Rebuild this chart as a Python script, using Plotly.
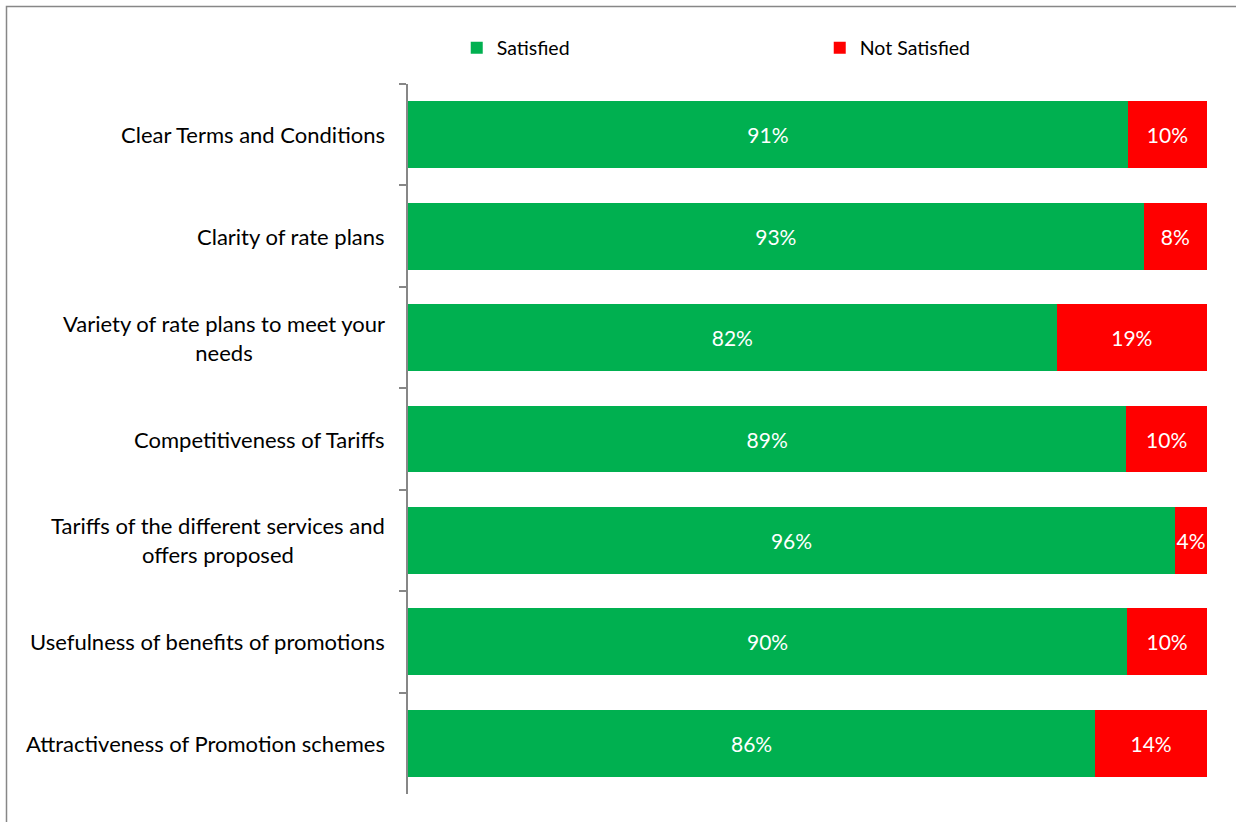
import plotly.graph_objects as go

# Survey items (top to bottom) and response shares in percent
categories = [
    "Clear Terms and Conditions",
    "Clarity of rate plans",
    "Variety of rate plans to meet your<br>needs",
    "Competitiveness of Tariffs",
    "Tariffs of the different services and<br>offers proposed",
    "Usefulness of benefits of promotions",
    "Attractiveness of Promotion schemes",
]
satisfied = [91, 93, 82, 89, 96, 90, 86]
not_satisfied = [10, 8, 19, 10, 4, 10, 14]

GREEN = "#00B050"
RED = "#FF0000"
FONT = "Lato"

fig = go.Figure()
for name, vals, col in [("Satisfied", satisfied, GREEN), ("Not Satisfied", not_satisfied, RED)]:
    fig.add_trace(go.Bar(
        name=name,
        y=categories,
        x=vals,
        orientation="h",
        marker=dict(color=col, line=dict(width=0)),
        text=[f"{v}%" for v in vals],
        textposition="inside",
        insidetextanchor="middle",
        textangle=0,
        constraintext="none",
        textfont=dict(color="white", size=21, family=FONT),
    ))

# Category labels, centred line-by-line and right-aligned against the axis
for cat in categories:
    fig.add_annotation(
        x=-0.0263, xref="paper", y=cat, yref="y",
        text=cat, showarrow=False, xanchor="right", align="center",
        font=dict(size=22, family=FONT, color="#000000"),
    )

# Outer frame
fig.add_shape(type="rect", xref="paper", yref="paper",
              x0=-0.5025, x1=1.2, y0=-0.2, y1=1.109,
              line=dict(color="#878787", width=1.5), layer="below")

fig.update_layout(
    barmode="stack",
    barnorm="percent",
    bargap=0.34,
    width=1236, height=822,
    margin=dict(l=408, r=29, t=84, b=28),
    paper_bgcolor="white",
    plot_bgcolor="white",
    font=dict(family=FONT, size=19, color="#000000"),
    showlegend=True,
    legend=dict(
        orientation="h",
        x=0.061, xanchor="left",
        y=1.0507, yanchor="middle",
        entrywidth=318,
        font=dict(size=19.5, family=FONT),
        traceorder="normal",
    ),
    xaxis=dict(range=[0, 100], visible=False, fixedrange=True),
    yaxis=dict(
        categoryorder="array",
        categoryarray=categories,
        autorange="reversed",
        showticklabels=False,
        showline=True, linecolor="#878787", linewidth=1.5,
        ticks="outside", ticklen=7, tickcolor="#878787", tickwidth=1.5,
        tickson="boundaries",
        showgrid=False, zeroline=False,
    ),
)

fig.write_html("out.html")
